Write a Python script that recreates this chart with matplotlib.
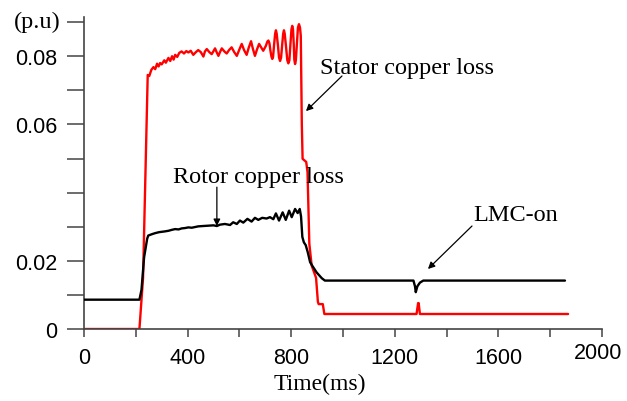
import matplotlib
matplotlib.use("Agg")
import matplotlib.pyplot as plt
import matplotlib.transforms as mtransforms

# ---------------- data ----------------
stator_t = [0, 214, 228, 246, 252, 260, 268, 275, 282, 288, 294, 300, 310, 316, 326, 333, 340, 346,
            352, 360, 368, 377, 386, 395, 403, 412, 422, 432, 441, 451, 461, 467, 474, 484, 493, 500,
            506, 512, 519, 525, 532, 542, 551, 560, 570, 580, 590, 600, 609, 618, 628, 636, 645, 652,
            660, 668, 676, 684, 692, 702, 708, 712, 716, 720, 724, 727, 730, 734, 738, 741, 744, 749,
            753, 757, 761, 765, 769, 772, 775, 780, 785, 789, 793, 797, 801, 804, 807, 810, 812, 815,
            818, 822, 826, 830, 834, 837, 841, 844, 858, 863, 870, 879, 896, 903, 906, 922, 928,
            1284, 1290, 1292, 1297, 1869]
stator_v = [0.0, 0.0, 0.0150, 0.0745, 0.0742, 0.0760, 0.0768, 0.0762, 0.0778, 0.0770, 0.0780, 0.0776,
            0.0788, 0.0781, 0.0795, 0.0786, 0.0800, 0.0790, 0.0804, 0.0798, 0.0810, 0.0814, 0.0808,
            0.0815, 0.0811, 0.0816, 0.0804, 0.0812, 0.0818, 0.0812, 0.0799, 0.0814, 0.0821, 0.0812,
            0.0806, 0.0815, 0.0823, 0.0812, 0.0801, 0.0812, 0.0823, 0.0814, 0.0808, 0.0818, 0.0826,
            0.0812, 0.0801, 0.0820, 0.0836, 0.0818, 0.0804, 0.0825, 0.0844, 0.0822, 0.0801, 0.0820,
            0.0836, 0.0826, 0.0816, 0.0830, 0.0843, 0.0846, 0.0838, 0.0815, 0.0798, 0.0792, 0.0798,
            0.0834, 0.0866, 0.0876, 0.0866, 0.0830, 0.0796, 0.0786, 0.0796, 0.0832, 0.0866, 0.0876,
            0.0866, 0.0828, 0.0788, 0.0779, 0.0788, 0.0835, 0.0879, 0.0889, 0.0879, 0.0832, 0.0790,
            0.0777, 0.0788, 0.0836, 0.0884, 0.0894, 0.0884, 0.0860, 0.0600, 0.0499, 0.0490, 0.0460,
            0.0250, 0.0186, 0.0150, 0.0080, 0.0073, 0.0073, 0.0044,
            0.0044, 0.0076, 0.0076, 0.0044, 0.0044]

rotor_t = [0, 214, 222, 232, 244, 248, 262, 274, 290, 310, 326, 340, 352, 365, 377, 390, 403, 416,
           441, 460, 480, 500, 513, 525, 544, 564, 576, 590, 602, 615, 631, 647, 660, 673, 688, 705,
           718, 731, 741, 753, 767, 779, 792, 802, 815, 825, 833, 838, 843, 849, 856, 864, 873, 881,
           898, 918, 930, 1272, 1278, 1281, 1287, 1297, 1310, 1857]
rotor_v = [0.0086, 0.0086, 0.0115, 0.0210, 0.0265, 0.0274, 0.0278, 0.0281, 0.0284, 0.0286, 0.0288,
           0.0291, 0.0293, 0.0292, 0.0295, 0.0296, 0.0298, 0.0297, 0.0301, 0.0302, 0.0303, 0.0304,
           0.0302, 0.0306, 0.0308, 0.0305, 0.0313, 0.0308, 0.0318, 0.0312, 0.0323, 0.0315, 0.0326,
           0.0320, 0.0326, 0.0324, 0.0328, 0.0322, 0.0339, 0.0318, 0.0342, 0.0320, 0.0347, 0.0328,
           0.0352, 0.0340, 0.0352, 0.0330, 0.0270, 0.0254, 0.0246, 0.0225, 0.0196, 0.0186, 0.0166,
           0.0149, 0.0142, 0.0142, 0.0125, 0.0108, 0.0125, 0.0136, 0.0142, 0.0142]

x_ticks = [0, 400, 800, 1200, 1600, 2000]
x_minor = [200, 600, 1000, 1400, 1800]
y_ticks = [0, 0.01, 0.02, 0.03, 0.04, 0.05, 0.06, 0.07, 0.08, 0.09]
y_labels = ['0', '', '0.02', '', '', '', '0.06', '', '0.08', '']

SERIF = ['Liberation Serif', 'DejaVu Serif']
SANS = ['Liberation Sans', 'DejaVu Sans']

# ---------------- figure ----------------
fig = plt.figure(figsize=(6.27, 4.02), dpi=100)
ax = fig.add_axes([84 / 627, 72 / 402, 518 / 627, 312 / 402])

ax.plot(rotor_t, rotor_v, color='black', lw=1.7, solid_joinstyle='round',
        solid_capstyle='round', zorder=3)
ax.plot(stator_t, stator_v, color='#ff0000', lw=1.7, solid_joinstyle='round',
        solid_capstyle='round', zorder=2)

ax.set_xlim(0, 2000)
ax.set_ylim(0, 0.0915)

for s in ['top', 'right']:
    ax.spines[s].set_visible(False)
for s in ['left', 'bottom']:
    ax.spines[s].set_color('#444444')
    ax.spines[s].set_linewidth(1.2)

ax.set_xticks(x_ticks)
ax.set_xticks(x_minor, minor=True)
ax.set_xticklabels([str(v) for v in x_ticks], family=SANS, fontsize=15.5)
ax.tick_params(axis='x', which='both', direction='out', length=6, width=1.1,
               color='#444444', pad=7)
ax.set_yticks(y_ticks)
ax.set_yticklabels(y_labels, family=SANS, fontsize=15.5)
ax.tick_params(axis='y', which='major', direction='out', length=12, width=1.1,
               color='#444444', pad=7)

# the "2000" label sits a bit higher/left in the reference
lbl = ax.get_xticklabels()[-1]
lbl.set_transform(lbl.get_transform() + mtransforms.ScaledTranslation(-4 / 100, 5 / 100, fig.dpi_scale_trans))

fig.text(37 / 627, 1 - 22 / 402, '(p.u)', family=SERIF, fontsize=17.5, ha='center', va='center')
ax.text(0.456, -0.176, 'Time(ms)', transform=ax.transAxes, family=SERIF, fontsize=17,
        ha='center', va='center')

arrow = dict(arrowstyle='-|>', color='black', lw=0.9, mutation_scale=10, shrinkA=0, shrinkB=0)
ax.text(911, 0.0768, 'Stator copper loss', family=SERIF, fontsize=17.5, ha='left', va='center')
ax.annotate('', xy=(857, 0.0639), xytext=(996, 0.0742), arrowprops=arrow)

ax.text(344, 0.0446, 'Rotor copper loss', family=SERIF, fontsize=17.5, ha='left', va='center')
ax.annotate('', xy=(513, 0.0302), xytext=(513, 0.0416), arrowprops=arrow)

ax.text(1502, 0.0337, 'LMC-on', family=SERIF, fontsize=17.5, ha='left', va='center')
ax.annotate('', xy=(1328, 0.0176), xytext=(1498, 0.0302), arrowprops=arrow)

fig.savefig('out.png', dpi=100)
